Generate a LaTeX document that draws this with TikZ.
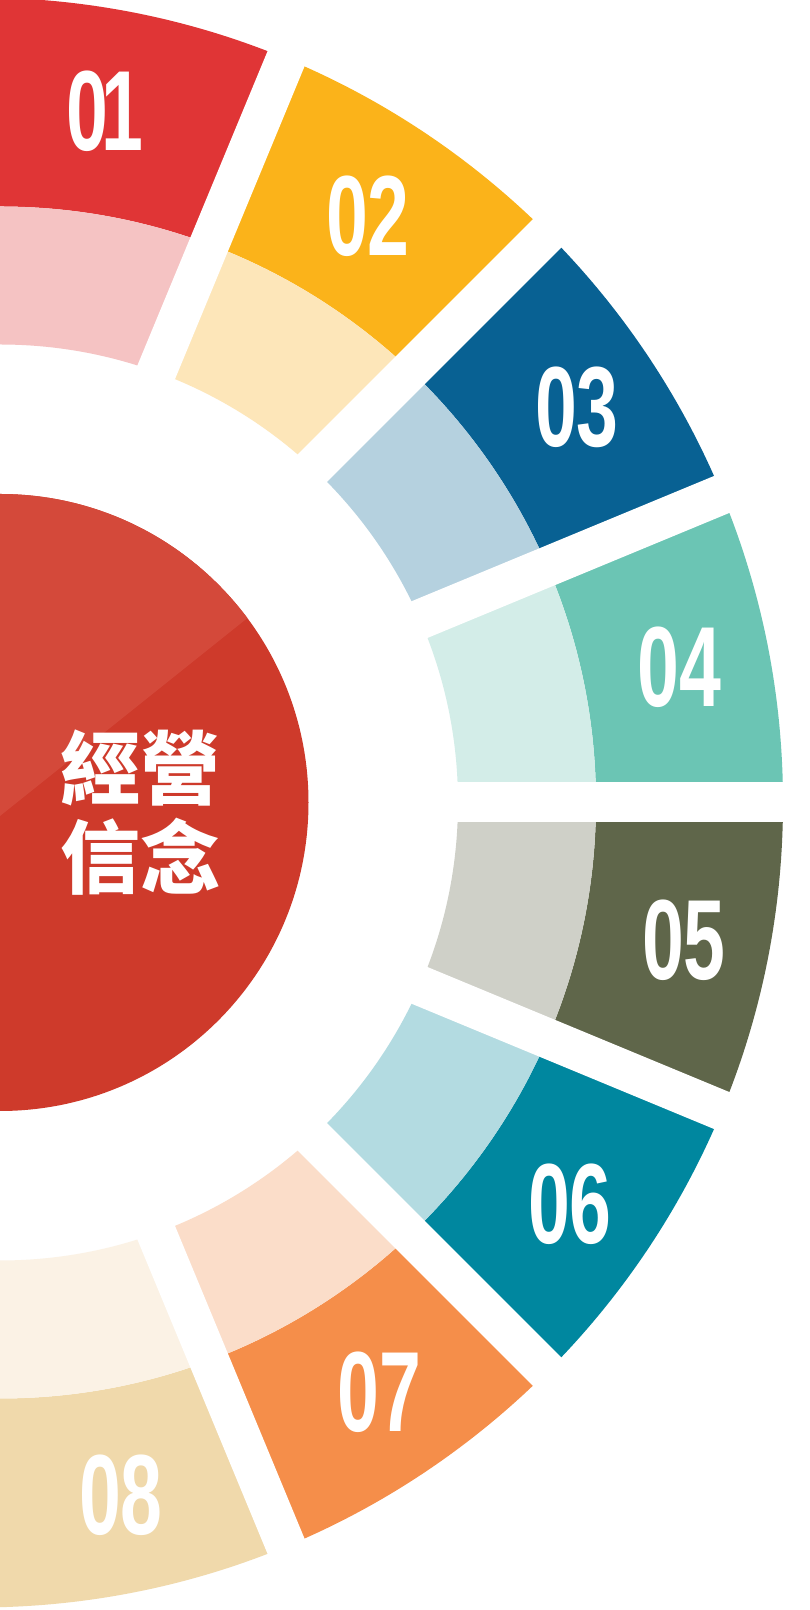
\documentclass[tikz,border=0pt]{standalone}
\usepackage{fontspec}
\newfontfamily\numfont{Liberation Sans}[FakeStretch=0.66]
\newfontfamily\cjk{Noto Sans CJK TC}
\definecolor{cAd}{HTML}{E03536}\definecolor{cAl}{HTML}{F5C3C3}
\definecolor{cBd}{HTML}{FBB31A}\definecolor{cBl}{HTML}{FDE6B9}
\definecolor{cCd}{HTML}{086193}\definecolor{cCl}{HTML}{B5D1DF}
\definecolor{cDd}{HTML}{6BC5B4}\definecolor{cDl}{HTML}{D3EDE8}
\definecolor{cEd}{HTML}{5F664A}\definecolor{cEl}{HTML}{CFD0C8}
\definecolor{cFd}{HTML}{00879F}\definecolor{cFl}{HTML}{B3DBE1}
\definecolor{cGd}{HTML}{F58E4A}\definecolor{cGl}{HTML}{FBDDC9}
\definecolor{cHd}{HTML}{F0D9AB}\definecolor{cHl}{HTML}{FBF2E5}
\definecolor{circmain}{HTML}{CE3A2B}
\definecolor{circlight}{HTML}{D4493A}
\tikzset{
  num/.style={text=white, inner sep=0pt, font=\numfont\bfseries\fontsize{114}{114}\selectfont},
  title/.style={text=white, inner sep=0pt, anchor=base, font=\cjk\bfseries\fontsize{80}{80}\selectfont},
  gapband/.style={white, line width=40pt}
}
\begin{document}
\begin{tikzpicture}[x=1pt,y=1pt]
\useasboundingbox (0,0) rectangle (810,1610);
\fill[white] (0,0) rectangle (810,1610);
\clip (0,0) rectangle (810,1610);
\coordinate (O) at (0,807.5);
\coordinate (G) at (-22,807.5);
\foreach \k/\dk/\lt in {1/cAd/cAl,2/cBd/cBl,3/cCd/cCl,4/cDd/cDl,5/cEd/cEl,6/cFd/cFl,7/cGd/cGl,8/cHd/cHl}{
  \pgfmathsetmacro\aa{90-22.5*(\k-1)}
  \pgfmathsetmacro\ab{90-22.5*\k}
  \begin{scope}
    \clip (G) -- +(\aa:1100) -- +(\ab:1100) -- cycle;
    \fill[\dk, even odd rule] (G) circle (805) (O) circle (596);
    \fill[\lt, even odd rule] (O) circle (596) (O) circle (458);
  \end{scope}
}
\foreach \a in {67.5,45,22.5,0,-22.5,-45,-67.5}{
  \draw[gapband] (G) -- +(\a:1100);
}
\fill[circmain] (O) circle (308.5);
\begin{scope}
  \clip (O) circle (308.5);
  \fill[circlight] (0,794) -- (400,1114) -- (400,1200) -- (0,1200) -- cycle;
\end{scope}
\node[title] (title1) at (140,811) {經營};
\node[title] (title2) at (140,722) {信念};
\node[num] (n1) at (105,1499) {0\kern-7pt 1};
\node[num] (n2) at (368,1393.5) {02};
\node[num] (n3) at (577,1203) {03};
\node[num] (n4) at (679.5,942.5) {04};
\node[num] (n5) at (684,669.5) {05};
\node[num] (n6) at (570,405.5) {06};
\node[num] (n7) at (379.5,218) {07};
\node[num] (n8) at (121,115) {08};
\end{tikzpicture}
\end{document}
